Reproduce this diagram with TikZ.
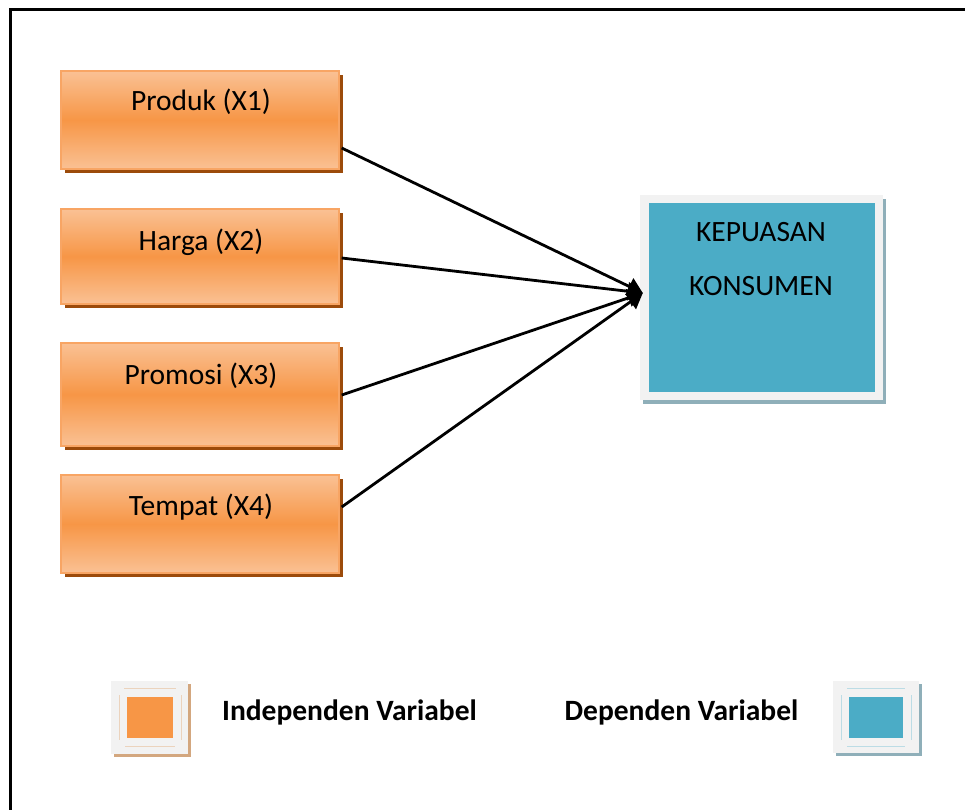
\documentclass[tikz,border=0pt]{standalone}
\usepackage{fontspec}
\setmainfont{Carlito}
\usetikzlibrary{arrows.meta,shadows,calc}

\definecolor{orangeMain}{HTML}{F79646}
\definecolor{orangeLight}{HTML}{FAC194}
\definecolor{orangeEdge}{HTML}{F8A564}
\definecolor{orangeShadow}{HTML}{9C4B0B}
\definecolor{blueMain}{HTML}{4BACC6}
\definecolor{blueShadow}{HTML}{8FAFB9}
\definecolor{paleGray}{HTML}{F2F2F2}
\definecolor{tanShadow}{HTML}{D3A77F}
\definecolor{tanLine}{HTML}{EBD3BD}
\definecolor{blueLine}{HTML}{BCDCE5}

\tikzset{
  varbox/.style={rectangle, minimum width=278pt, inner sep=0pt,
    draw=orangeEdge, line width=1.4pt,
    top color=orangeLight, bottom color=orangeLight, middle color=orangeMain,
    drop shadow={shadow xshift=3.5pt, shadow yshift=-4pt, fill=orangeShadow, opacity=1}},
  vartext/.style={anchor=base, font=\fontsize{29.5}{35}\selectfont},
  depbox/.style={rectangle, minimum width=243pt, minimum height=205pt, inner sep=0pt,
    fill=paleGray,
    drop shadow={shadow xshift=3pt, shadow yshift=-3.5pt, fill=blueShadow, opacity=1}},
  depfill/.style={rectangle, minimum width=226pt, minimum height=189pt, inner sep=0pt, fill=blueMain},
  link/.style={line width=2.8pt, -{Triangle[length=15pt,width=18pt]}},
  iconbox/.style={rectangle, minimum width=77pt, minimum height=73pt, inner sep=0pt,
    fill=paleGray},
  legtext/.style={anchor=base, font=\fontsize{29.5}{35}\selectfont\bfseries},
}

\begin{document}
\begin{tikzpicture}[x=1pt,y=-1pt]
\useasboundingbox (0,0) rectangle (965,809);

% outer frame (runs past the right and bottom edges)
\draw[line width=2.6pt] (990,9.5) -- (10.5,9.5) -- (10.5,840);

% independent variables
\node[varbox, minimum height=98pt]  (p1) at (200,120) {};
\node[varbox, minimum height=95pt]  (p2) at (200,256.5) {};
\node[varbox, minimum height=103pt] (p3) at (200,394.5) {};
\node[varbox, minimum height=98pt]  (p4) at (200,524) {};

\node[vartext] (t1) at (201,110) {Produk (X1)};
\node[vartext] (t2) at (201,250) {Harga (X2)};
\node[vartext] (t3) at (201,384) {Promosi (X3)};
\node[vartext] (t4) at (201,515) {Tempat (X4)};

% dependent variable
\node[depbox] (dep) at (761.5,297.5) {};
\node[depfill] (depin) at (dep.center) {};
\node[vartext] (d1) at (761,241) {KEPUASAN};
\node[vartext] (d2) at (761,295) {KONSUMEN};

% connector start points on the right edges
\coordinate (s1) at ([xshift=2pt,yshift=-28pt]p1.east);
\coordinate (s2) at ([xshift=2pt,yshift=-1.5pt]p2.east);
\coordinate (s3) at ([xshift=2pt,yshift=-0.5pt]p3.east);
\coordinate (s4) at ([xshift=2pt,yshift=17pt]p4.east);
\coordinate (tip) at ([xshift=3pt,yshift=4.5pt]dep.west);

\draw[link] (s1) -- (tip);
\draw[link] (s2) -- (tip);
\draw[link] (s3) -- (tip);
\draw[link] (s4) -- (tip);

% legend: independent
\fill[tanShadow] (114,684) rectangle (191,757);
\node[iconbox] (li) at (149.5,717.5) {};
\draw[tanLine, line width=1pt] (124,688) -- (176,688) (125,746) -- (175,746)
  (119,695) -- (119,740) (181,695) -- (181,740);
\node[rectangle, fill=orangeMain, minimum width=46pt, minimum height=41pt, inner sep=0pt]
  (lisq) at (150,717.5) {};
\node[legtext] (ltxt) at (349.5,720) {Independen Variabel};

% legend: dependent
\fill[blueShadow] (836,684) rectangle (922,756);
\node[iconbox, minimum width=86pt, minimum height=72pt] (ld) at (876,717) {};
\draw[blueLine, line width=1pt] (847,688) -- (905,688) (847,746) -- (905,746)
  (841,695) -- (841,740) (911,695) -- (911,740);
\node[rectangle, fill=blueMain, minimum width=54pt, minimum height=41pt, inner sep=0pt]
  (ldsq) at (876,717.5) {};
\node[legtext] (dtxt) at (681.5,720) {Dependen Variabel};
\end{tikzpicture}
\end{document}
